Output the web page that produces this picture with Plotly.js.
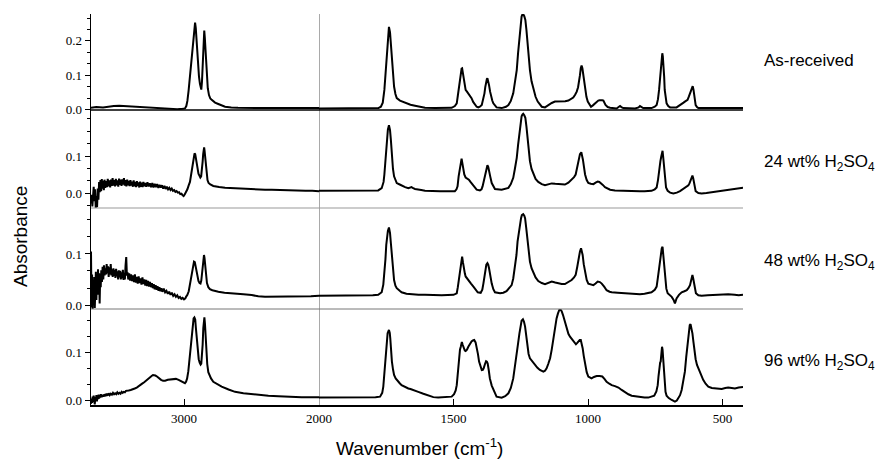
<!DOCTYPE html>
<html>
<head>
<meta charset="utf-8">
<script src="https://cdn.plot.ly/plotly-3.0.1.min.js"></script>
<style>
  html, body { margin: 0; padding: 0; background: #fff; }
  #chart { width: 875px; height: 466px; }
</style>
</head>
<body>
<div id="chart"></div>
<script>
// FTIR spectra of four samples, [wavenumber cm-1, absorbance].
// Each spectrum is split at 2000 cm-1: the region below 2000 is plotted on a 2x expanded scale.

const sampleLabels = [
  'As-received',
  '24 wt% H<sub>2</sub>SO<sub>4</sub>',
  '48 wt% H<sub>2</sub>SO<sub>4</sub>',
  '96 wt% H<sub>2</sub>SO<sub>4</sub>'
];

const highTicks = [3000];
const lowTicks = [2000, 1500, 1000, 500];
const absTicksTop = [0, 0.1, 0.2];
const absTicks = [0, 0.1];

// ---------- As-received ----------
const asReceivedHigh = [
  [3689,0.005],[3650,0.007],[3600,0.006],[3560,0.009],[3520,0.010],[3480,0.011],[3440,0.010],
  [3400,0.010],[3360,0.009],[3320,0.008],[3280,0.006],[3240,0.004],[3200,0.003],[3150,0.002],
  [3100,0.001],[3050,0.001],[3010,0.002],[2993,0.003],[2983,0.010],[2975,0.025],[2966,0.055],
  [2956,0.096],[2947,0.135],[2938,0.173],[2930,0.215],[2923,0.240],[2918,0.253],[2913,0.238],
  [2908,0.205],[2904,0.173],[2897,0.130],[2889,0.096],[2882,0.075],[2877,0.062],[2872,0.058],
  [2867,0.080],[2862,0.144],[2857,0.190],[2854,0.212],[2850,0.230],[2846,0.210],[2842,0.183],
  [2837,0.135],[2832,0.096],[2824,0.062],[2815,0.042],[2805,0.032],[2795,0.028],[2770,0.020],
  [2746,0.016],[2720,0.011],[2696,0.008],[2650,0.006],[2600,0.005],[2400,0.004],[2200,0.004],
  [2000,0.004]
];
const asReceivedLow = [
  [2000,0.003],[1900,0.003],[1800,0.003],[1779,0.004],[1770,0.008],[1763,0.020],[1757,0.057],
  [1753,0.100],[1750,0.144],[1747,0.185],[1744,0.222],[1740,0.241],[1736,0.225],[1733,0.190],
  [1729,0.144],[1725,0.100],[1721,0.067],[1716,0.045],[1711,0.033],[1699,0.026],[1686,0.022],
  [1674,0.018],[1660,0.014],[1643,0.011],[1625,0.008],[1606,0.005],[1569,0.004],[1507,0.005],
  [1495,0.010],[1488,0.018],[1484,0.040],[1480,0.067],[1476,0.095],[1473,0.110],[1470,0.119],
  [1468,0.120],[1465,0.105],[1462,0.091],[1458,0.070],[1455,0.057],[1450,0.052],[1445,0.047],
  [1439,0.041],[1433,0.033],[1427,0.022],[1420,0.013],[1414,0.008],[1408,0.006],[1402,0.008],
  [1395,0.013],[1390,0.028],[1385,0.047],[1382,0.065],[1379,0.081],[1376,0.089],[1374,0.091],
  [1371,0.083],[1368,0.071],[1364,0.052],[1361,0.037],[1356,0.026],[1352,0.018],[1346,0.010],
  [1340,0.006],[1321,0.004],[1305,0.008],[1296,0.013],[1287,0.025],[1278,0.047],[1272,0.075],
  [1265,0.115],[1260,0.165],[1255,0.212],[1251,0.245],[1247,0.271],[1244,0.277],[1241,0.278],
  [1237,0.272],[1233,0.261],[1229,0.232],[1225,0.193],[1220,0.150],[1216,0.115],[1210,0.082],
  [1203,0.057],[1195,0.037],[1187,0.023],[1180,0.015],[1172,0.008],[1160,0.006],[1148,0.013],
  [1135,0.019],[1123,0.023],[1110,0.023],[1098,0.022],[1085,0.024],[1073,0.026],[1064,0.030],
  [1055,0.035],[1048,0.043],[1042,0.052],[1037,0.065],[1034,0.076],[1030,0.100],[1027,0.120],
  [1024,0.128],[1021,0.120],[1019,0.110],[1015,0.082],[1011,0.057],[1006,0.037],[1001,0.023],
  [995,0.014],[989,0.008],[982,0.012],[974,0.018],[968,0.023],[962,0.026],[957,0.027],
  [952,0.028],[947,0.027],[943,0.026],[939,0.020],[935,0.013],[927,0.007],[918,0.005],
  [894,0.003],[886,0.007],[881,0.010],[876,0.007],[869,0.004],[825,0.003],[812,0.006],
  [807,0.010],[801,0.007],[795,0.004],[764,0.004],[752,0.008],[745,0.013],[740,0.030],
  [736,0.057],[733,0.080],[731,0.096],[728,0.120],[726,0.144],[724,0.164],[722,0.155],
  [720,0.135],[717,0.095],[715,0.057],[712,0.035],[708,0.018],[702,0.010],[695,0.006],
  [671,0.006],[660,0.011],[652,0.016],[645,0.020],[640,0.023],[635,0.025],[630,0.028],
  [625,0.038],[621,0.047],[617,0.058],[614,0.065],[611,0.068],[608,0.058],[606,0.047],
  [603,0.028],[600,0.013],[595,0.007],[590,0.004],[550,0.004],[500,0.004],[450,0.004],
  [424,0.004]
];

// ---------- 24 wt% H2SO4 ----------
const acid24High = [
  [3689,-0.028],[3684,-0.005],[3679,-0.036],[3674,0.008],[3669,0.017],[3664,-0.022],[3659,0.010],
  [3654,-0.040],[3649,-0.008],[3644,-0.038],[3639,0.012],[3634,-0.018],[3629,0.030],[3624,0.002],
  [3619,0.035],[3614,0.005],[3609,0.038],[3604,0.012],[3599,0.033],[3594,0.008],[3589,0.036],
  [3583,0.014],[3577,0.032],[3571,0.016],[3565,0.038],[3559,0.018],[3553,0.034],[3547,0.015],
  [3541,0.036],[3535,0.019],[3529,0.040],[3523,0.020],[3517,0.035],[3511,0.018],[3505,0.038],
  [3499,0.021],[3493,0.034],[3487,0.017],[3481,0.039],[3475,0.022],[3469,0.036],[3463,0.019],
  [3457,0.037],[3451,0.023],[3445,0.040],[3439,0.020],[3433,0.035],[3427,0.018],[3421,0.036],
  [3415,0.021],[3409,0.033],[3403,0.019],[3397,0.035],[3391,0.020],[3385,0.031],[3379,0.017],
  [3373,0.034],[3367,0.018],[3361,0.030],[3355,0.016],[3349,0.032],[3343,0.019],[3337,0.029],
  [3331,0.015],[3325,0.031],[3319,0.017],[3313,0.028],[3307,0.016],[3301,0.030],[3295,0.018],
  [3289,0.027],[3280,0.017],[3271,0.029],[3262,0.018],[3253,0.026],[3244,0.016],[3235,0.027],
  [3226,0.015],[3217,0.025],[3208,0.016],[3199,0.024],[3190,0.014],[3181,0.022],[3172,0.015],
  [3163,0.021],[3154,0.012],[3145,0.019],[3136,0.011],[3127,0.017],[3118,0.010],[3109,0.014],
  [3100,0.008],[3091,0.012],[3082,0.006],[3073,0.008],[3064,0.003],[3055,0.005],[3046,0.001],
  [3037,0.002],[3028,-0.003],[3019,-0.002],[3010,-0.006],[3003,-0.008],[2995,-0.004],
  [2985,0.002],[2975,0.010],[2966,0.020],[2956,0.030],[2948,0.048],[2940,0.068],[2933,0.088],
  [2927,0.100],[2922,0.107],[2917,0.105],[2912,0.093],[2906,0.075],[2900,0.060],[2893,0.052],
  [2886,0.047],[2879,0.042],[2873,0.045],[2867,0.062],[2862,0.085],[2858,0.105],[2854,0.118],
  [2851,0.123],[2848,0.115],[2844,0.098],[2839,0.072],[2833,0.048],[2826,0.035],[2818,0.027],
  [2805,0.023],[2783,0.019],[2760,0.017],[2740,0.016],[2696,0.014],[2650,0.013],[2600,0.012],
  [2550,0.011],[2499,0.010],[2450,0.010],[2400,0.009],[2350,0.009],[2300,0.008],[2252,0.008],
  [2200,0.007],[2150,0.007],[2100,0.006],[2050,0.006],[2000,0.005]
];
const acid24Low = [
  [2000,0.006],[1900,0.006],[1800,0.007],[1780,0.007],[1767,0.013],[1760,0.030],[1757,0.050],
  [1753,0.085],[1750,0.122],[1747,0.150],[1744,0.171],[1740,0.183],[1736,0.170],[1733,0.145],
  [1729,0.095],[1725,0.065],[1721,0.045],[1716,0.033],[1711,0.027],[1700,0.023],[1693,0.020],
  [1680,0.016],[1668,0.013],[1660,0.014],[1656,0.016],[1650,0.013],[1643,0.011],[1620,0.008],
  [1606,0.006],[1550,0.005],[1495,0.005],[1489,0.010],[1485,0.018],[1481,0.045],[1477,0.068],
  [1473,0.085],[1470,0.093],[1467,0.080],[1464,0.063],[1460,0.050],[1455,0.042],[1449,0.039],
  [1443,0.036],[1437,0.030],[1430,0.023],[1422,0.015],[1414,0.009],[1402,0.007],[1396,0.010],
  [1392,0.018],[1387,0.035],[1383,0.054],[1378,0.068],[1374,0.075],[1371,0.071],[1368,0.063],
  [1363,0.043],[1358,0.027],[1352,0.017],[1346,0.011],[1321,0.009],[1305,0.011],[1296,0.014],
  [1287,0.024],[1278,0.041],[1272,0.065],[1265,0.095],[1260,0.130],[1255,0.167],[1251,0.192],
  [1247,0.207],[1244,0.212],[1241,0.214],[1237,0.210],[1233,0.203],[1229,0.180],[1225,0.144],
  [1220,0.110],[1216,0.086],[1210,0.065],[1203,0.050],[1195,0.038],[1185,0.030],[1172,0.024],
  [1160,0.021],[1148,0.023],[1135,0.026],[1122,0.025],[1110,0.024],[1098,0.023],[1086,0.023],
  [1073,0.028],[1061,0.036],[1052,0.043],[1046,0.050],[1040,0.070],[1034,0.095],[1030,0.105],
  [1025,0.110],[1022,0.102],[1019,0.090],[1015,0.070],[1011,0.050],[1005,0.035],[999,0.027],
  [990,0.025],[980,0.024],[972,0.028],[964,0.031],[958,0.030],[952,0.027],[945,0.022],
  [937,0.016],[928,0.012],[918,0.009],[900,0.007],[875,0.006],[840,0.005],[807,0.005],
  [790,0.005],[764,0.006],[752,0.010],[745,0.015],[740,0.035],[736,0.063],[733,0.075],
  [731,0.086],[728,0.098],[726,0.108],[723,0.114],[721,0.100],[719,0.081],[717,0.055],
  [714,0.032],[710,0.015],[704,0.006],[695,0.001],[683,-0.001],[670,0.001],[658,0.005],
  [648,0.010],[640,0.014],[633,0.018],[627,0.021],[623,0.026],[619,0.032],[615,0.042],
  [612,0.047],[609,0.040],[607,0.032],[604,0.018],[600,0.005],[590,0.000],[578,-0.001],
  [560,0.000],[528,0.003],[500,0.005],[479,0.007],[455,0.010],[440,0.012],[429,0.0135],
  [424,0.014]
];

// ---------- 48 wt% H2SO4 ----------
const acid48High = [
  [3689,0.105],[3685,-0.005],[3681,0.060],[3677,-0.008],[3673,0.045],[3669,0.002],[3665,0.055],
  [3661,-0.006],[3657,0.030],[3653,0.065],[3649,0.010],[3645,0.058],[3641,0.020],[3637,0.070],
  [3633,0.025],[3629,0.062],[3625,0.003],[3621,0.055],[3617,0.035],[3613,0.068],[3608,0.045],
  [3603,0.075],[3598,0.050],[3593,0.078],[3588,0.058],[3583,0.072],[3578,0.060],[3573,0.080],
  [3568,0.062],[3563,0.076],[3558,0.055],[3553,0.074],[3548,0.060],[3543,0.080],[3538,0.058],
  [3533,0.070],[3528,0.055],[3523,0.072],[3518,0.057],[3513,0.069],[3508,0.053],[3503,0.071],
  [3498,0.056],[3493,0.066],[3488,0.050],[3483,0.068],[3478,0.054],[3473,0.067],[3468,0.050],
  [3463,0.064],[3458,0.052],[3453,0.069],[3448,0.049],[3443,0.063],[3438,0.050],[3433,0.078],
  [3428,0.094],[3423,0.058],[3418,0.064],[3413,0.050],[3406,0.062],[3399,0.048],[3392,0.060],
  [3385,0.047],[3378,0.058],[3371,0.045],[3364,0.060],[3357,0.044],[3350,0.055],[3343,0.042],
  [3336,0.056],[3329,0.043],[3322,0.052],[3315,0.040],[3308,0.054],[3301,0.041],[3294,0.050],
  [3287,0.038],[3280,0.049],[3273,0.037],[3266,0.047],[3259,0.036],[3252,0.045],[3245,0.035],
  [3238,0.043],[3231,0.033],[3224,0.041],[3217,0.031],[3210,0.039],[3203,0.030],[3196,0.037],
  [3189,0.028],[3182,0.035],[3175,0.027],[3168,0.033],[3160,0.026],[3150,0.032],[3140,0.025],
  [3130,0.028],[3120,0.022],[3110,0.026],[3100,0.020],[3090,0.024],[3080,0.018],[3070,0.021],
  [3060,0.016],[3050,0.019],[3040,0.014],[3030,0.016],[3020,0.012],[3010,0.014],[3000,0.011],
  [2990,0.013],[2985,0.016],[2975,0.020],[2965,0.027],[2956,0.040],[2948,0.052],[2940,0.066],
  [2933,0.078],[2926,0.085],[2920,0.084],[2914,0.075],[2907,0.062],[2900,0.052],[2893,0.047],
  [2885,0.043],[2878,0.042],[2872,0.048],[2866,0.062],[2861,0.080],[2856,0.093],[2852,0.098],
  [2848,0.092],[2843,0.078],[2837,0.058],[2830,0.043],[2820,0.035],[2808,0.031],[2790,0.029],
  [2770,0.027],[2746,0.026],[2700,0.024],[2622,0.023],[2560,0.021],[2499,0.0196],[2450,0.017],
  [2400,0.016],[2330,0.016],[2252,0.017],[2180,0.017],[2129,0.017],[2060,0.017],[2000,0.018]
];
const acid48Low = [
  [2000,0.018],[1900,0.018],[1800,0.019],[1780,0.020],[1767,0.025],[1761,0.040],[1757,0.059],
  [1753,0.090],[1750,0.118],[1747,0.135],[1744,0.145],[1740,0.152],[1736,0.141],[1733,0.122],
  [1729,0.092],[1725,0.068],[1721,0.049],[1716,0.038],[1711,0.033],[1700,0.028],[1693,0.025],
  [1675,0.022],[1656,0.021],[1630,0.020],[1606,0.020],[1544,0.019],[1500,0.020],[1488,0.023],
  [1484,0.035],[1480,0.052],[1476,0.070],[1473,0.082],[1470,0.092],[1468,0.095],[1465,0.084],
  [1462,0.072],[1458,0.062],[1455,0.056],[1449,0.051],[1443,0.047],[1435,0.042],[1426,0.036],
  [1418,0.030],[1410,0.025],[1399,0.024],[1393,0.030],[1389,0.042],[1385,0.058],[1382,0.072],
  [1378,0.079],[1374,0.082],[1371,0.079],[1368,0.072],[1363,0.055],[1358,0.042],[1352,0.031],
  [1346,0.025],[1327,0.023],[1315,0.024],[1303,0.027],[1292,0.033],[1284,0.039],[1278,0.052],
  [1272,0.072],[1266,0.098],[1262,0.124],[1257,0.145],[1253,0.160],[1249,0.170],[1246,0.176],
  [1241,0.178],[1237,0.175],[1234,0.170],[1230,0.152],[1226,0.131],[1221,0.105],[1216,0.085],
  [1210,0.072],[1203,0.062],[1195,0.054],[1185,0.047],[1172,0.043],[1160,0.041],[1148,0.043],
  [1135,0.046],[1122,0.044],[1110,0.042],[1098,0.041],[1086,0.041],[1073,0.045],[1061,0.049],
  [1052,0.054],[1046,0.059],[1040,0.075],[1034,0.095],[1030,0.105],[1026,0.111],[1023,0.106],
  [1020,0.098],[1016,0.080],[1011,0.062],[1005,0.049],[999,0.042],[990,0.040],[980,0.039],
  [972,0.042],[964,0.046],[956,0.045],[949,0.042],[940,0.036],[931,0.029],[920,0.026],
  [912,0.025],[890,0.024],[863,0.023],[830,0.022],[807,0.021],[790,0.022],[776,0.024],
  [764,0.025],[752,0.030],[745,0.036],[740,0.055],[736,0.072],[733,0.082],[731,0.092],
  [728,0.102],[726,0.111],[723,0.114],[721,0.102],[719,0.085],[716,0.062],[714,0.046],
  [709,0.032],[704,0.023],[696,0.019],[689,0.016],[682,0.010],[677,0.003],[674,0.008],
  [671,0.013],[662,0.020],[652,0.025],[642,0.027],[633,0.029],[627,0.033],[621,0.039],
  [616,0.050],[612,0.059],[609,0.052],[606,0.042],[603,0.031],[599,0.023],[590,0.019],
  [578,0.018],[555,0.019],[528,0.0196],[500,0.020],[479,0.021],[455,0.020],[440,0.019],
  [424,0.020]
];

// ---------- 96 wt% H2SO4 ----------
const acid96High = [
  [3689,-0.008],[3685,0.003],[3681,-0.006],[3677,0.007],[3673,-0.004],[3669,0.009],[3665,0.000],
  [3661,-0.009],[3657,0.006],[3653,0.001],[3649,0.010],[3645,-0.003],[3641,0.008],[3637,0.002],
  [3633,0.011],[3629,0.003],[3625,0.009],[3621,0.005],[3616,0.012],[3610,0.006],[3604,0.011],
  [3597,0.007],[3590,0.012],[3582,0.008],[3574,0.013],[3566,0.009],[3558,0.014],[3550,0.010],
  [3542,0.013],[3534,0.011],[3526,0.015],[3518,0.012],[3510,0.014],[3502,0.012],[3494,0.016],
  [3486,0.013],[3478,0.015],[3470,0.013],[3462,0.017],[3454,0.015],[3446,0.017],[3438,0.016],
  [3430,0.019],[3424,0.019],[3410,0.020],[3395,0.021],[3380,0.022],[3365,0.024],[3350,0.026],
  [3338,0.028],[3326,0.031],[3310,0.034],[3295,0.037],[3280,0.041],[3265,0.045],[3252,0.048],
  [3240,0.050],[3230,0.052],[3222,0.052],[3212,0.051],[3200,0.049],[3185,0.045],[3170,0.042],
  [3155,0.040],[3140,0.040],[3120,0.042],[3100,0.043],[3081,0.044],[3060,0.044],[3040,0.042],
  [3020,0.039],[3005,0.036],[2993,0.035],[2985,0.038],[2977,0.045],[2968,0.060],[2960,0.085],
  [2952,0.112],[2944,0.140],[2936,0.160],[2929,0.170],[2923,0.172],[2917,0.168],[2912,0.150],
  [2906,0.125],[2899,0.100],[2891,0.085],[2884,0.078],[2877,0.074],[2872,0.076],[2867,0.090],
  [2862,0.115],[2857,0.150],[2853,0.168],[2849,0.172],[2845,0.160],[2840,0.130],[2835,0.100],
  [2828,0.075],[2820,0.058],[2810,0.049],[2800,0.045],[2783,0.038],[2750,0.032],[2721,0.028],
  [2670,0.022],[2622,0.017],[2560,0.014],[2499,0.012],[2440,0.010],[2375,0.009],[2300,0.008],
  [2252,0.007],[2129,0.006],[2000,0.0055]
];
const acid96Low = [
  [2000,0.005],[1900,0.005],[1829,0.005],[1790,0.006],[1773,0.007],[1765,0.015],[1761,0.028],
  [1756,0.060],[1752,0.101],[1748,0.125],[1745,0.139],[1740,0.146],[1737,0.140],[1735,0.128],
  [1732,0.100],[1729,0.080],[1725,0.064],[1721,0.052],[1715,0.045],[1709,0.040],[1700,0.035],
  [1693,0.031],[1680,0.027],[1668,0.024],[1660,0.023],[1656,0.022],[1645,0.020],[1631,0.017],
  [1612,0.013],[1594,0.009],[1575,0.006],[1557,0.005],[1530,0.006],[1507,0.007],[1498,0.012],
  [1492,0.020],[1488,0.031],[1484,0.060],[1480,0.087],[1476,0.105],[1473,0.111],[1469,0.121],
  [1466,0.115],[1462,0.108],[1458,0.103],[1455,0.102],[1450,0.105],[1445,0.111],[1439,0.117],
  [1433,0.122],[1428,0.124],[1423,0.125],[1418,0.120],[1414,0.111],[1409,0.095],[1405,0.080],
  [1400,0.068],[1395,0.0625],[1391,0.063],[1388,0.066],[1383,0.075],[1379,0.081],[1376,0.080],
  [1373,0.076],[1369,0.062],[1365,0.045],[1358,0.030],[1352,0.021],[1346,0.012],[1340,0.007],
  [1321,0.005],[1308,0.008],[1296,0.014],[1287,0.025],[1278,0.045],[1271,0.070],[1265,0.094],
  [1260,0.118],[1255,0.139],[1251,0.155],[1247,0.165],[1242,0.168],[1238,0.163],[1234,0.153],
  [1230,0.133],[1226,0.111],[1221,0.096],[1216,0.087],[1207,0.080],[1197,0.073],[1188,0.067],
  [1179,0.0625],[1172,0.060],[1166,0.059],[1160,0.061],[1154,0.066],[1148,0.075],[1141,0.087],
  [1135,0.105],[1129,0.128],[1123,0.150],[1117,0.170],[1112,0.180],[1107,0.1875],[1102,0.188],
  [1098,0.185],[1093,0.177],[1088,0.167],[1083,0.156],[1079,0.146],[1073,0.138],[1067,0.132],
  [1061,0.128],[1055,0.125],[1050,0.121],[1045,0.116],[1040,0.119],[1036,0.122],[1031,0.125],
  [1027,0.125],[1024,0.118],[1020,0.108],[1016,0.092],[1011,0.073],[1005,0.058],[999,0.049],
  [993,0.046],[987,0.045],[978,0.048],[968,0.050],[957,0.050],[947,0.049],[939,0.044],
  [931,0.038],[921,0.034],[912,0.031],[900,0.029],[887,0.026],[875,0.021],[863,0.016],
  [850,0.012],[838,0.009],[820,0.007],[807,0.006],[790,0.005],[776,0.005],[764,0.007],
  [754,0.009],[746,0.018],[741,0.031],[738,0.050],[735,0.073],[732,0.078],[730,0.080],
  [727,0.095],[725,0.111],[723,0.105],[721,0.087],[719,0.060],[716,0.031],[712,0.017],
  [708,0.009],[700,0.004],[689,0.000],[677,-0.0035],[670,-0.001],[665,0.0035],[658,0.010],
  [652,0.021],[646,0.038],[640,0.059],[635,0.090],[630,0.122],[626,0.142],[622,0.156],
  [619,0.158],[615,0.150],[612,0.139],[608,0.120],[605,0.101],[600,0.085],[595,0.073],
  [590,0.066],[584,0.059],[578,0.050],[572,0.042],[563,0.034],[553,0.028],[540,0.025],
  [528,0.024],[515,0.023],[503,0.023],[490,0.025],[479,0.026],[466,0.025],[454,0.024],
  [440,0.026],[429,0.027],[424,0.027]
];

const spectra = [
  { high: asReceivedHigh, low: asReceivedLow },
  { high: acid24High, low: acid24Low },
  { high: acid48High, low: acid48Low },
  { high: acid96High, low: acid96Low }
];

// Panel layout (top to bottom) and absorbance ranges
const panelDomains = [[0.7545, 1.0], [0.5038, 0.7545], [0.2455, 0.5038], [0.0, 0.2455]];
const panelRanges = [[-0.0015, 0.2784], [-0.0405, 0.2243], [-0.0078, 0.1900], [-0.0104, 0.1896]];
const splitFrac = 0.3497;

const serif = 'Liberation Serif, Times New Roman, serif';
const sans = 'Liberation Sans, Arial, sans-serif';

const traces = [];
spectra.forEach((s, i) => {
  const yName = i === 0 ? 'y' : 'y' + (i + 1);
  const line = { color: '#000', width: 2 };
  traces.push({
    x: s.high.map(p => p[0]), y: s.high.map(p => p[1]),
    xaxis: 'x', yaxis: yName, type: 'scatter', mode: 'lines', line, hoverinfo: 'skip'
  });
  traces.push({
    x: s.low.map(p => p[0]), y: s.low.map(p => p[1]),
    xaxis: 'x2', yaxis: yName, type: 'scatter', mode: 'lines', line, hoverinfo: 'skip'
  });
});

const xCommon = {
  anchor: 'y4', showline: true, linecolor: '#000', linewidth: 2,
  ticks: 'inside', ticklen: 6, tickwidth: 1, tickcolor: '#000',
  tickmode: 'array', showgrid: false, zeroline: false,
  tickfont: { family: serif, size: 13, color: '#000' }
};

const layout = {
  width: 875, height: 466,
  margin: { l: 91, r: 132, t: 14, b: 61 },
  paper_bgcolor: '#fff', plot_bgcolor: '#fff',
  showlegend: false,
  xaxis: Object.assign({}, xCommon, {
    domain: [0, splitFrac], range: [3689, 2000], tickvals: highTicks, ticktext: highTicks.map(String)
  }),
  xaxis2: Object.assign({}, xCommon, {
    domain: [splitFrac, 1], range: [2000, 424], tickvals: lowTicks, ticktext: lowTicks.map(String)
  }),
  shapes: [],
  annotations: []
};

panelDomains.forEach((dom, i) => {
  const key = i === 0 ? 'yaxis' : 'yaxis' + (i + 1);
  const rng = panelRanges[i];
  const major = i === 0 ? absTicksTop : absTicks;
  const minorVals = [];
  for (let k = Math.ceil(rng[0] * 30); k / 30 <= rng[1]; k++) minorVals.push(k / 30);
  layout[key] = {
    domain: dom, range: rng, anchor: 'x',
    showline: true, linecolor: '#000', linewidth: 1.5,
    ticks: 'outside', ticklen: 5, tickwidth: 1, tickcolor: '#000',
    tickmode: 'array', tickvals: major, ticktext: major.map(v => v.toFixed(1)),
    minor: { tickmode: 'array', tickvals: minorVals, ticks: 'outside', ticklen: 3, tickcolor: '#000', showgrid: false },
    showgrid: false, zeroline: false,
    tickfont: { family: serif, size: 13, color: '#000' }
  };
});

// Panel separators along the bottom of the upper three panels
const sepStyles = [
  { color: '#000', width: 1.5 },
  { color: '#999', width: 1 },
  { color: '#777', width: 1 }
];
sepStyles.forEach((st, i) => {
  layout.shapes.push({
    type: 'line', xref: 'paper', x0: 0, x1: 1,
    yref: (i === 0 ? 'y' : 'y' + (i + 1)) + ' domain', y0: 0, y1: 0,
    line: st, layer: 'above'
  });
});

// Scale-change marker at 2000 cm-1
layout.shapes.push({
  type: 'line', xref: 'x2', x0: 2000, x1: 2000, yref: 'paper', y0: 0, y1: 1,
  line: { color: '#555', width: 1 }, layer: 'below'
});

// Sample labels to the right of each panel
const labelY = [0.8798, 0.619, 0.3657, 0.11];
sampleLabels.forEach((txt, i) => {
  layout.annotations.push({
    text: txt, xref: 'paper', yref: 'paper', x: 1.029, y: labelY[i],
    xanchor: 'left', yanchor: 'middle', showarrow: false,
    font: { family: sans, size: 17, color: '#000' }
  });
});

layout.annotations.push({
  text: 'Absorbance', xref: 'paper', yref: 'paper', x: -0.109, y: 0.432,
  xanchor: 'center', yanchor: 'middle', textangle: -90, showarrow: false,
  font: { family: sans, size: 19, color: '#000' }
});
layout.annotations.push({
  text: 'Wavenumber (cm<sup>-1</sup>)', xref: 'paper', yref: 'paper', x: 0.5046, y: -0.107,
  xanchor: 'center', yanchor: 'middle', showarrow: false,
  font: { family: sans, size: 19, color: '#000' }
});

Plotly.newPlot('chart', traces, layout, { staticPlot: true, displayModeBar: false });
</script>
</body>
</html>
